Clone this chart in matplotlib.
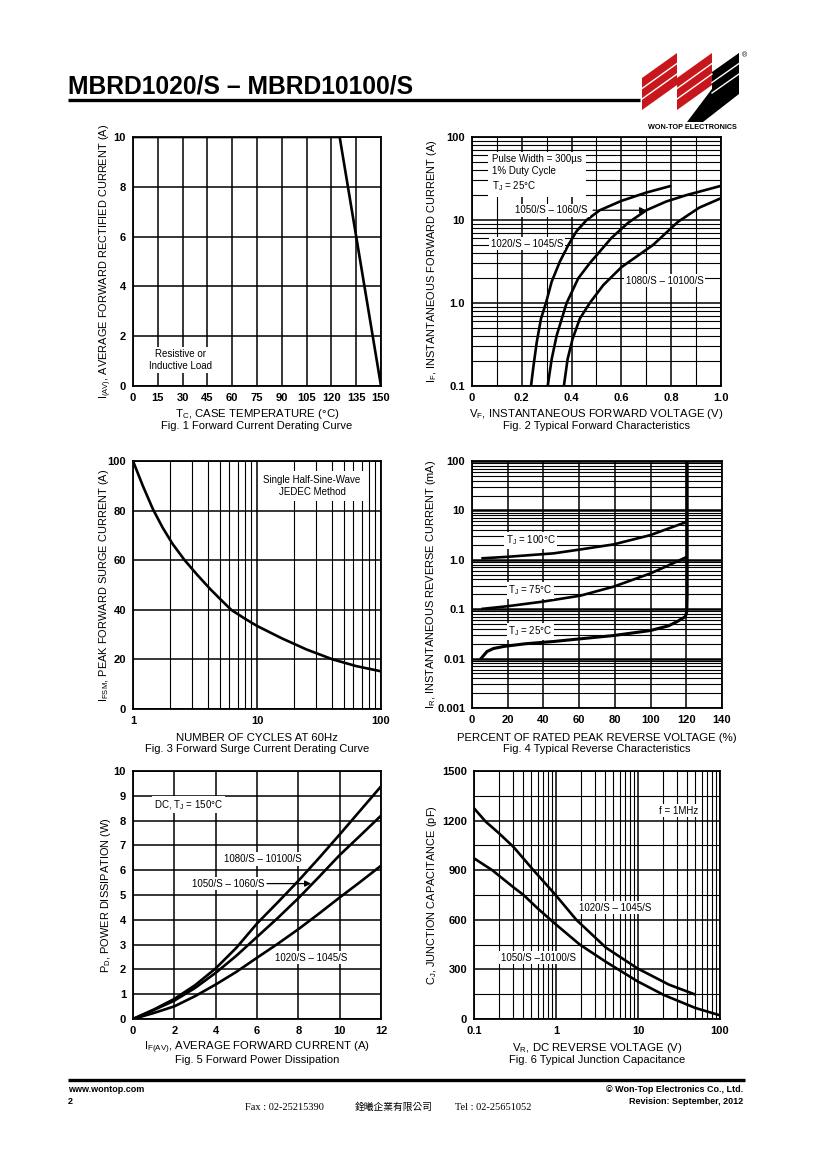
import matplotlib
matplotlib.use('Agg')
import matplotlib.pyplot as plt
from matplotlib.patches import Polygon
from matplotlib.ticker import LogLocator, NullFormatter, FixedLocator

W, H = 820, 1160
plt.rcParams['font.family'] = ['Liberation Sans', 'DejaVu Sans']
plt.rcParams['mathtext.default'] = 'regular'

# ---------------- data ----------------
# Fig 1: forward current derating
fig1_tc = [0, 125, 150]
fig1_iav = [10, 10, 0]

# Fig 2: typical forward characteristics
fig2_v_1020 = [0.237, 0.247, 0.26, 0.277, 0.297, 0.32, 0.353, 0.387, 0.42, 0.46, 0.513, 0.60, 0.70, 0.80]
fig2_i_1020 = [0.1, 0.175, 0.337, 0.647, 1.0, 1.81, 3.16, 5.0, 7.33, 9.97, 13.1, 17.0, 21.4, 25.8]
fig2_v_1050 = [0.304, 0.32, 0.34, 0.38, 0.427, 0.473, 0.56, 0.627, 0.70, 0.78, 0.86, 1.0]
fig2_i_1050 = [0.1, 0.211, 0.406, 1.0, 1.99, 3.02, 6.08, 9.25, 13.1, 16.7, 19.9, 25.8]
fig2_v_1080 = [0.369, 0.384, 0.404, 0.433, 0.473, 0.527, 0.60, 0.727, 0.827, 0.913, 1.0]
fig2_i_1080 = [0.1, 0.211, 0.37, 0.647, 1.0, 1.64, 2.7, 5.0, 9.5, 14.1, 18.3]

# Fig 3: forward surge current derating
fig3_cycles = [1, 1.2, 1.45, 1.74, 2.09, 2.61, 3.31, 4.17, 5.01, 6.19, 7.94, 10, 15.85, 25.1, 40.8, 63.1, 100]
fig3_ifsm = [100, 90, 80.5, 73, 66.5, 60, 54, 48.5, 44.5, 40, 36.5, 33.5, 28.5, 24, 20, 17.3, 15.2]

# Fig 4: typical reverse characteristics
fig4_pct_100 = [5.2, 20, 45.7, 60.7, 79.3, 99.9, 110, 120.4]
fig4_ir_100 = [1.07, 1.15, 1.35, 1.62, 2.05, 3.16, 4.3, 5.87]
fig4_pct_75 = [5.2, 20, 40.1, 60.7, 79.3, 99.9, 110, 120.4]
fig4_ir_75 = [0.101, 0.115, 0.143, 0.188, 0.286, 0.53, 0.77, 1.15]
fig4_pct_25 = [5.2, 8.4, 12, 17.7, 30, 45.7, 60, 79.3, 99.9, 110, 114.8, 119.5, 120.3, 120.5, 120.5]
fig4_ir_25 = [0.0102, 0.0139, 0.016, 0.0176, 0.02, 0.0222, 0.025, 0.0293, 0.037, 0.046, 0.056, 0.0708, 0.09, 0.2, 100]

# Fig 5: forward power dissipation
fig5_if = [0, 1, 2, 3, 4, 5, 6, 7, 8, 9, 10, 11, 12]
fig5_pd_1080 = [0, 0.38, 0.81, 1.36, 2.04, 2.87, 3.85, 4.7, 5.57, 6.49, 7.44, 8.41, 9.38]
fig5_pd_1050 = [0, 0.36, 0.74, 1.25, 1.86, 2.55, 3.31, 4.07, 4.87, 5.73, 6.61, 7.4, 8.2]
fig5_pd_1020 = [0, 0.24, 0.51, 0.92, 1.39, 1.9, 2.47, 3.03, 3.62, 4.25, 4.9, 5.53, 6.18]

# Fig 6: typical junction capacitance
fig6_vr_1020 = [0.1, 0.138, 0.2, 0.304, 0.531, 0.97, 1.77, 4.08, 9.86, 23.8, 49.9]
fig6_cj_1020 = [1275, 1195, 1125, 1040, 900, 755, 600, 431, 306, 208, 148]
fig6_vr_1050 = [0.1, 0.167, 0.304, 0.402, 0.6, 0.97, 1.94, 4.08, 9.86, 20.7, 49.9, 100]
fig6_cj_1050 = [972, 900, 796, 750, 668, 577, 451, 345, 228, 145, 67, 22]

# tick labels
fig1_xticks = [0, 15, 30, 45, 60, 75, 90, 105, 120, 135, 150]
fig1_yticks = [0, 2, 4, 6, 8, 10]
fig2_xticks = [0, 0.2, 0.4, 0.6, 0.8, 1.0]
fig2_xlabels = ['0', '0.2', '0.4', '0.6', '0.8', '1.0']
fig2_yticks = [0.1, 1, 10, 100]
fig2_ylabels = ['0.1', '1.0', '10', '100']
fig3_xticks = [1, 10, 100]
fig3_xlabels = ['1', '10', '100']
fig3_yticks = [0, 20, 40, 60, 80, 100]
fig4_xticks = [0, 20, 40, 60, 80, 100, 120, 140]
fig4_yticks = [0.001, 0.01, 0.1, 1, 10, 100]
fig4_ylabels = ['0.001', '0.01', '0.1', '1.0', '10', '100']
fig5_xticks = [0, 2, 4, 6, 8, 10, 12]
fig5_yticks = list(range(0, 11))
fig6_xticks = [0.1, 1, 10, 100]
fig6_xlabels = ['0.1', '1', '10', '100']
fig6_yticks = [0, 300, 600, 900, 1200, 1500]

# ---------------- figure ----------------
fig = plt.figure(figsize=(8.2, 11.6), dpi=100)
fig.patch.set_facecolor('white')

bg = fig.add_axes([0, 0, 1, 1], zorder=-5)
bg.set_xlim(0, W)
bg.set_ylim(H, 0)
bg.axis('off')


def px_ax(x0, y0, x1, y1):
    return fig.add_axes([x0 / W, 1 - y1 / H, (x1 - x0) / W, (y1 - y0) / H])


TL = dict(fontsize=8, fontweight='bold')
LBL = 8.2
YLBL = 7.9
CAP = 8
ANN = 7
BOX = dict(facecolor='white', edgecolor='none', pad=1.2)


def base_style(ax):
    for s in ax.spines.values():
        s.set_linewidth(1.3)
        s.set_zorder(5)
    ax.tick_params(which='both', length=0, pad=5)
    ax.set_axisbelow(True)
    ax.grid(which='major', color='black', linewidth=1.1)
    ax.grid(which='minor', color='black', linewidth=0.8)


def captions(ax, xlabel, cap, ylabel, ylab_x, y_lab, y_cap):
    pos = ax.get_position()
    xc = pos.x0 + pos.width / 2
    fig.text(xc, 1 - y_lab / H, xlabel, ha='center', va='center', fontsize=LBL)
    fig.text(xc, 1 - y_cap / H, cap, ha='center', va='center', fontsize=CAP)
    fig.text(ylab_x / W, pos.y0 + pos.height / 2, ylabel, rotation=90,
             ha='center', va='center', fontsize=YLBL)


CURVE = dict(color='black', linewidth=1.9, solid_capstyle='butt', solid_joinstyle='round')

# Fig 1
ax1 = px_ax(133, 137, 381, 386)
ax1.set_xlim(0, 150)
ax1.set_ylim(0, 10)
ax1.set_xticks(fig1_xticks, [str(t) for t in fig1_xticks], **TL)
ax1.set_yticks(fig1_yticks, [str(t) for t in fig1_yticks], **TL)
base_style(ax1)
ax1.plot(fig1_tc, fig1_iav, **CURVE)
ax1.text(29, 1.05, 'Resistive or\nInductive Load', ha='center', va='center',
         fontsize=ANN, bbox=BOX, linespacing=1.3)
captions(ax1, 'T$_C$, CASE TEMPERATURE (°C)', 'Fig. 1 Forward Current Derating Curve',
         'I$_{(AV)}$, AVERAGE FORWARD RECTIFIED CURRENT (A)', 106, 414, 426)

# Fig 2
ax2 = px_ax(472, 137, 721, 386)
ax2.set_yscale('log')
ax2.set_xlim(0, 1.0)
ax2.set_ylim(0.1, 100)
ax2.set_xticks(fig2_xticks, fig2_xlabels, **TL)
ax2.xaxis.set_minor_locator(FixedLocator([0.1, 0.3, 0.5, 0.7, 0.9]))
ax2.set_yticks(fig2_yticks, fig2_ylabels, **TL)
ax2.yaxis.set_minor_locator(LogLocator(base=10, subs=range(2, 10)))
ax2.yaxis.set_minor_formatter(NullFormatter())
base_style(ax2)
ax2.plot(fig2_v_1020, fig2_i_1020, **CURVE)
ax2.plot(fig2_v_1050, fig2_i_1050, **CURVE)
ax2.plot(fig2_v_1080, fig2_i_1080, **CURVE)
ax2.text(0.08, 62, 'Pulse Width = 300µs\n1% Duty Cycle\nT$_J$ = 25°C', ha='left', va='top',
         fontsize=ANN, bbox=dict(facecolor='white', edgecolor='none', pad=3), linespacing=1.25)
ax2.text(0.32, 13.1, '1050/S – 1060/S', ha='center', va='center', fontsize=ANN, bbox=BOX)
ax2.annotate('', xy=(0.71, 13.1), xytext=(0.475, 13.1),
             arrowprops=dict(arrowstyle='-|>', color='black', lw=0.9, mutation_scale=9))
ax2.text(0.22, 5.2, '1020/S – 1045/S', ha='center', va='center', fontsize=ANN, bbox=BOX)
ax2.text(0.773, 1.85, '1080/S – 10100/S', ha='center', va='center', fontsize=ANN, bbox=BOX)
captions(ax2, 'V$_F$, INSTANTANEOUS FORWARD VOLTAGE (V)', 'Fig. 2 Typical Forward Characteristics',
         'I$_F$, INSTANTANEOUS FORWARD CURRENT (A)', 432, 414, 426)

# Fig 3
ax3 = px_ax(133, 461, 381, 709)
ax3.set_xscale('log')
ax3.set_xlim(1, 100)
ax3.set_ylim(0, 100)
ax3.set_xticks(fig3_xticks, fig3_xlabels, **TL)
ax3.xaxis.set_minor_locator(LogLocator(base=10, subs=range(2, 10)))
ax3.xaxis.set_minor_formatter(NullFormatter())
ax3.set_yticks(fig3_yticks, [str(t) for t in fig3_yticks], **TL)
base_style(ax3)
ax3.plot(fig3_cycles, fig3_ifsm, **CURVE)
ax3.text(27.8, 90, 'Single Half-Sine-Wave\nJEDEC Method', ha='center', va='center',
         fontsize=ANN, bbox=dict(facecolor='white', edgecolor='none', pad=3), linespacing=1.25)
captions(ax3, 'NUMBER OF CYCLES AT 60Hz', 'Fig. 3 Forward Surge Current Derating Curve',
         'I$_{FSM}$, PEAK FORWARD SURGE CURRENT (A)', 104, 738, 749)

# Fig 4
ax4 = px_ax(472, 461, 722, 708)
ax4.set_yscale('log')
ax4.set_xlim(0, 140)
ax4.set_ylim(0.001, 100)
ax4.set_xticks(fig4_xticks, [str(t) for t in fig4_xticks], **TL)
ax4.set_yticks(fig4_yticks, fig4_ylabels, **TL)
ax4.yaxis.set_minor_locator(LogLocator(base=10, subs=range(2, 10)))
ax4.yaxis.set_minor_formatter(NullFormatter())
base_style(ax4)
ax4.grid(which='major', axis='y', color='black', linewidth=1.8)
ax4.plot(fig4_pct_100, fig4_ir_100, **CURVE)
ax4.plot(fig4_pct_75, fig4_ir_75, **CURVE)
ax4.plot(fig4_pct_25, fig4_ir_25, color='black', linewidth=2.2, solid_joinstyle='round')
ax4.text(32.7, 2.45, 'T$_J$ = 100°C', ha='center', va='center', fontsize=ANN, bbox=BOX)
ax4.text(32.7, 0.24, 'T$_J$ = 75°C', ha='center', va='center', fontsize=ANN, bbox=BOX)
ax4.text(32.7, 0.036, 'T$_J$ = 25°C', ha='center', va='center', fontsize=ANN, bbox=BOX)
captions(ax4, 'PERCENT OF RATED PEAK REVERSE VOLTAGE (%)', 'Fig. 4 Typical Reverse Characteristics',
         'I$_R$, INSTANTANEOUS REVERSE CURRENT (mA)', 431, 738, 749)

# Fig 5
ax5 = px_ax(133, 771, 381, 1019)
ax5.set_xlim(0, 12)
ax5.set_ylim(0, 10)
ax5.set_xticks(fig5_xticks, [str(t) for t in fig5_xticks], **TL)
ax5.set_yticks(fig5_yticks, [str(t) for t in fig5_yticks], **TL)
base_style(ax5)
ax5.plot(fig5_if, fig5_pd_1080, **CURVE)
ax5.plot(fig5_if, fig5_pd_1050, **CURVE)
ax5.plot(fig5_if, fig5_pd_1020, **CURVE)
ax5.text(1.0, 8.64, 'DC, T$_J$ = 150°C', ha='left', va='center', fontsize=ANN, bbox=BOX)
ax5.text(6.28, 6.45, '1080/S – 10100/S', ha='center', va='center', fontsize=ANN, bbox=BOX)
ax5.text(4.59, 5.46, '1050/S – 1060/S', ha='center', va='center', fontsize=ANN, bbox=BOX)
ax5.annotate('', xy=(8.75, 5.46), xytext=(6.35, 5.46),
             arrowprops=dict(arrowstyle='-|>', color='black', lw=0.9, mutation_scale=9))
ax5.text(8.62, 2.47, '1020/S – 1045/S', ha='center', va='center', fontsize=ANN, bbox=BOX)
captions(ax5, 'I$_{F(AV)}$, AVERAGE FORWARD CURRENT (A)', 'Fig. 5 Forward Power Dissipation',
         'P$_D$, POWER DISSIPATION (W)', 106, 1048, 1060)

# Fig 6
ax6 = px_ax(474, 771, 720, 1019)
ax6.set_xscale('log')
ax6.set_xlim(0.1, 100)
ax6.set_ylim(0, 1500)
ax6.set_xticks(fig6_xticks, fig6_xlabels, **TL)
ax6.xaxis.set_minor_locator(LogLocator(base=10, subs=range(2, 10)))
ax6.xaxis.set_minor_formatter(NullFormatter())
ax6.set_yticks(fig6_yticks, [str(t) for t in fig6_yticks], **TL)
ax6.yaxis.set_minor_locator(FixedLocator([150, 450, 750, 1050, 1350]))
base_style(ax6)
ax6.plot(fig6_vr_1020, fig6_cj_1020, **CURVE)
ax6.plot(fig6_vr_1050, fig6_cj_1050, **CURVE)
ax6.text(31.4, 1259, 'f = 1MHz', ha='center', va='center', fontsize=ANN, bbox=BOX)
ax6.text(5.3, 674, '1020/S – 1045/S', ha='center', va='center', fontsize=ANN, bbox=BOX)
ax6.text(0.61, 370, '1050/S –10100/S', ha='center', va='center', fontsize=ANN, bbox=BOX)
captions(ax6, 'V$_R$, DC REVERSE VOLTAGE (V)', 'Fig. 6 Typical Junction Capacitance',
         'C$_J$, JUNCTION CAPACITANCE (pF)', 432, 1048, 1060)

# ---------------- header ----------------
bg.text(68, 94, 'MBRD1020/S – MBRD10100/S', fontsize=17.7, fontweight='bold',
        ha='left', va='baseline')
bg.plot([68, 640], [99.5, 99.5], color='black', linewidth=2.4, solid_capstyle='butt')

red = '#c8161d'
for dx in (0, 35):
    bg.add_patch(Polygon([(642 + dx, 78), (677 + dx, 53), (677 + dx, 85), (642 + dx, 110)],
                         closed=True, facecolor=red, edgecolor='none'))
    for off in (10.5, 21):
        bg.plot([642 + dx, 677 + dx], [78 + off, 53 + off], color='white', linewidth=1.0)
bg.add_patch(Polygon([(687, 122), (703, 122), (739, 94), (739, 53)],
                     closed=True, facecolor='black', edgecolor='none'))
bg.add_patch(Polygon([(712, 72), (739, 53), (739, 84), (712, 103)],
                     closed=True, facecolor='black', edgecolor='none'))
for off in (10.5, 21):
    bg.plot([712, 739], [72 + off, 53 + off], color='white', linewidth=1.0)
bg.text(745, 56, '®', fontsize=5, ha='center', va='center')
bg.text(692, 127.5, 'WON-TOP ELECTRONICS', fontsize=5.2, fontweight='bold',
        ha='center', va='center')

# ---------------- footer ----------------
bg.plot([68, 745], [1080, 1080], color='black', linewidth=2.4, solid_capstyle='butt')
bg.text(68, 1090, 'www.wontop.com', fontsize=6.5, fontweight='bold', ha='left', va='center')
bg.text(68, 1101, '2', fontsize=6.5, fontweight='bold', ha='left', va='center')
bg.text(743, 1090, '© Won-Top Electronics Co., Ltd.', fontsize=6.5, fontweight='bold',
        ha='right', va='center')
bg.text(743, 1101, 'Revision: September, 2012', fontsize=6.5, fontweight='bold',
        ha='right', va='center')
bg.text(245, 1107, 'Fax : 02-25215390', fontsize=7.5, ha='left', va='center',
        family=['Liberation Serif', 'DejaVu Serif'])
bg.text(355, 1107, '銓曦企業有限公司', fontsize=7, ha='left', va='center',
        family=['Noto Sans CJK TC', 'DejaVu Sans'])
bg.text(455, 1107, 'Tel : 02-25651052', fontsize=7.5, ha='left', va='center',
        family=['Liberation Serif', 'DejaVu Serif'])

fig.savefig('out.png', dpi=100, facecolor='white')
